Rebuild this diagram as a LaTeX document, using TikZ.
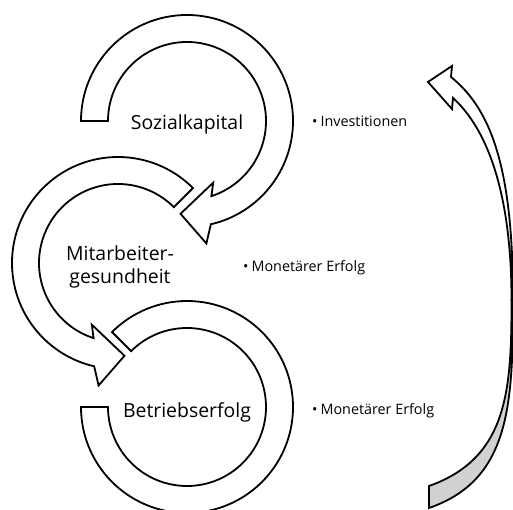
\documentclass[tikz,border=0pt]{standalone}
\usepackage{fontspec}
\setmainfont{Open Sans}
\usetikzlibrary{positioning}

\begin{document}
\begin{tikzpicture}[
  x=1bp,
  y=1bp,
  ringarrow/.style={
    draw,
    fill=white,
    line width=1.8bp,
    line join=miter
  },
  ribbon/.style={draw, line width=1.8bp, line join=miter},
  ringtext/.style={font=\fontsize{19.5}{24}\selectfont, align=center, inner sep=0pt},
  listtext/.style={font=\fontsize{14.4}{17}\selectfont, anchor=base west, inner sep=0pt}
]
\useasboundingbox (0,0) rectangle (513,510);
\clip (0,0) rectangle (513,510);

\draw[ringarrow, shift={(187,389)}] (180:106) arc[start angle=180, end angle=-77, radius=106]
  -- (-81:124) -- (-94:93) -- (-67:67) -- (-72:79)
  arc[start angle=-72, end angle=180, radius=79] -- cycle;
\draw[ringarrow, shift={(118,247)}] (45:106) arc[start angle=45, end angle=257, radius=106]
  -- (261:124) -- (274:93) -- (247:67) -- (252:79)
  arc[start angle=252, end angle=45, radius=79] -- cycle;
\draw[ringarrow, shift={(187,103)}] (180:106) arc[start angle=180, end angle=495, radius=106]
  -- (495:79) arc[start angle=495, end angle=180, radius=79] -- cycle;

\draw[ribbon, fill=black!18] (429,2) .. controls (510,30) and (513,105) .. (513,210)
  -- (511.5,210) .. controls (511.5,120) and (508,52) .. (429,24) -- cycle;
\draw[ribbon, fill=white] (513,210) .. controls (513,340) and (492,400) .. (451,433)
  -- (452,444) -- (428,428) -- (452,401) -- (453,412)
  .. controls (486,382) and (511.5,320) .. (511.5,210) -- cycle;

\node[ringtext] (sozial) at (187,386) {Sozialkapital};
\node[ringtext] (gesund) at (120,243) {Mitarbeiter-\\gesundheit};
\node[ringtext] (betrieb) at (187,98) {Betriebserfolg};

\node[listtext] (invest) at (312,383) {\textbullet\hspace{3bp}Investitionen};
\node[listtext] (monetaer) at (243,238) {\textbullet\hspace{3bp}Monetärer Erfolg};
\node[listtext] (erfolg) at (312,95) {\textbullet\hspace{3bp}Monetärer Erfolg};
\end{tikzpicture}
\end{document}
